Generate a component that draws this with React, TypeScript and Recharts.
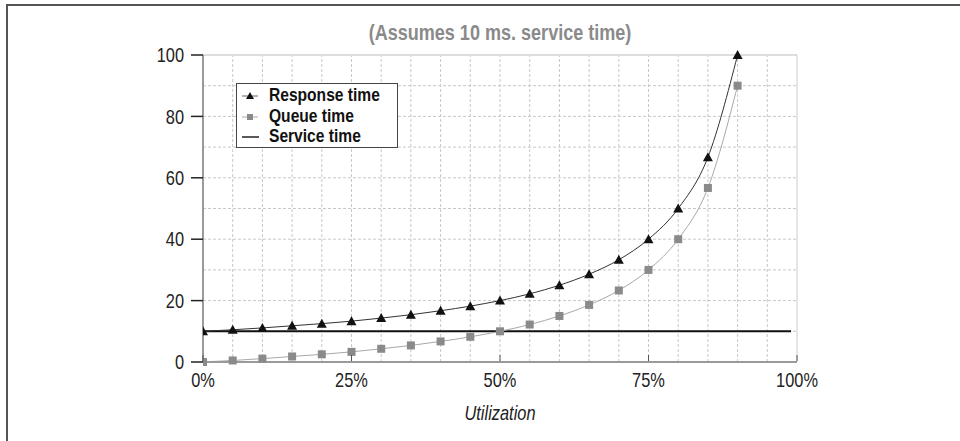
import React from 'react';
import { LineChart, Line, XAxis, YAxis, ReferenceLine, Legend } from 'recharts';

const FONT = '"Liberation Sans", Arial, sans-serif';
const SX = 0.82;

const utilization = [0, 5, 10, 15, 20, 25, 30, 35, 40, 45, 50, 55, 60, 65, 70, 75, 80, 85, 90];
const responseTime = [10, 10.5, 11.1, 11.8, 12.5, 13.3, 14.3, 15.4, 16.7, 18.2, 20, 22.2, 25, 28.6, 33.3, 40, 50, 66.7, 100];
const queueTime = [0, 0.5, 1.1, 1.8, 2.5, 3.3, 4.3, 5.4, 6.7, 8.2, 10, 12.2, 15, 18.6, 23.3, 30, 40, 56.7, 90];
const serviceU = [0, 99];
const serviceTime = [10, 10];

const xTicks = [0, 25, 50, 75, 100];
const yTicks = [0, 20, 40, 60, 80, 100];
const gridX = [5, 10, 15, 20, 25, 30, 35, 40, 45, 50, 55, 60, 65, 70, 75, 80, 85, 90, 95];
const gridY = [10, 20, 30, 40, 50, 60, 70, 80, 90];

const title = '(Assumes 10 ms. service time)';
const xLabel = 'Utilization';
const legendNames = ['Response time', 'Queue time', 'Service time'];

const data = utilization.map((u, i) => ({ u, response: responseTime[i], queue: queueTime[i] }));
const serviceData = serviceU.map((u, i) => ({ u, service: serviceTime[i] }));

const Triangle = (props: any) => {
  const { cx, cy } = props;
  if (cx == null || cy == null) return null;
  return <path d={`M${cx},${cy - 5} L${cx + 5},${cy + 4} L${cx - 5},${cy + 4} Z`} fill="#111" />;
};
const Square = (props: any) => {
  const { cx, cy } = props;
  if (cx == null || cy == null) return null;
  return <rect x={cx - 4} y={cy - 4} width={8} height={8} fill="#8a8a8a" />;
};

const XTick = (props: any) => {
  const { x, y, payload } = props;
  return (
    <g transform={`translate(${x},${y})`}>
      <line x1={0} x2={0} y1={-18} y2={-12} stroke="#555" strokeWidth={1} />
      <text transform={`scale(${SX},1)`} textAnchor="middle" dy="0.71em" fill="#222" fontSize={20} fontFamily={FONT}>
        {`${payload.value}%`}
      </text>
    </g>
  );
};
const YTick = (props: any) => {
  const { x, y, payload } = props;
  return (
    <g transform={`translate(${x},${y})`}>
      <text transform={`scale(${SX},1)`} textAnchor="end" dy="0.36em" fill="#222" fontSize={20} fontFamily={FONT}>
        {payload.value}
      </text>
    </g>
  );
};
const XLabel = (props: any) => {
  const vb = props.viewBox || {};
  const cx = vb.x + vb.width / 2;
  const by = vb.y + vb.height - 2;
  return (
    <g transform={`translate(${cx},${by})`}>
      <text transform={`scale(${SX},1)`} textAnchor="middle" fill="#222" fontSize={20} fontStyle="italic" fontFamily={FONT}>
        {xLabel}
      </text>
    </g>
  );
};

const LegendBox = () => (
  <div
    style={{
      border: '1.5px solid #444',
      background: '#fff',
      width: 160,
      height: 62,
      boxSizing: 'content-box',
      fontFamily: FONT,
      fontWeight: 'bold',
      fontSize: 19,
      color: '#111',
      paddingTop: 1,
    }}
  >
    {legendNames.map((name, i) => (
      <div key={name} style={{ display: 'flex', alignItems: 'center', height: 20.5, lineHeight: '20.5px' }}>
        <svg width={32} height={20} style={{ flex: 'none' }}>
          {i === 0 && (
            <g>
              <line x1={5} x2={21} y1={11} y2={11} stroke="#666" strokeWidth={1} />
              <path d="M13,7 L17,14 L9,14 Z" fill="#111" />
            </g>
          )}
          {i === 1 && (
            <g>
              <line x1={5} x2={21} y1={11} y2={11} stroke="#aaa" strokeWidth={1} />
              <rect x={10} y={8} width={6} height={6} fill="#8a8a8a" />
            </g>
          )}
          {i === 2 && <line x1={5} x2={22} y1={11} y2={11} stroke="#222" strokeWidth={1.5} />}
        </svg>
        <span style={{ whiteSpace: 'nowrap', display: 'inline-block', transform: `scaleX(${SX})`, transformOrigin: 'left center' }}>{name}</span>
      </div>
    ))}
  </div>
);

export default function App() {
  return (
    <div style={{ position: 'absolute', left: 0, top: 0, width: 960, height: 441, background: '#fff', overflow: 'hidden' }}>
      <div
        style={{
          position: 'absolute',
          left: 6,
          top: 4,
          width: 954,
          height: 437,
          boxSizing: 'border-box',
          borderLeft: '2px solid #555',
          borderTop: '2px solid #555',
        }}
      />
      <div
        style={{
          position: 'absolute',
          left: 300,
          width: 400,
          top: 20,
          textAlign: 'center',
          fontFamily: FONT,
          fontWeight: 'bold',
          fontSize: 22,
          color: '#8a8a8a',
          lineHeight: '26px',
          transform: `scaleX(${SX})`,
          transformOrigin: 'center',
          whiteSpace: 'nowrap',
        }}
      >
        {title}
      </div>
      <div style={{ position: 'absolute', left: 0, top: 0 }}>
        <LineChart width={960} height={441} data={data} margin={{ top: 55, right: 163, bottom: 19, left: 143 }}>
          {gridX.map((x) => (
            <ReferenceLine key={'gx' + x} x={x} stroke="#c8c8c8" strokeDasharray="3 2" strokeWidth={1} />
          ))}
          {gridY.map((y) => (
            <ReferenceLine key={'gy' + y} y={y} stroke="#c8c8c8" strokeDasharray="3 2" strokeWidth={1} />
          ))}
          <ReferenceLine y={100} stroke="#dddddd" strokeWidth={2} />
          <ReferenceLine x={100} stroke="#cccccc" strokeWidth={1} />
          <XAxis
            type="number"
            dataKey="u"
            domain={[0, 100]}
            ticks={xTicks}
            tickLine={false}
            tickSize={0}
            tickMargin={11}
            axisLine={{ stroke: '#9a9a9a', strokeWidth: 2 }}
            tick={<XTick />}
            height={60}
            allowDataOverflow
            label={{ content: (p: any) => <XLabel {...p} /> }}
          />
          <YAxis
            type="number"
            domain={[0, 100]}
            ticks={yTicks}
            width={60}
            tickSize={12}
            tickMargin={7}
            tickLine={{ stroke: '#222', strokeWidth: 1.5 }}
            axisLine={{ stroke: '#9a9a9a', strokeWidth: 2 }}
            tick={<YTick />}
          />
          <Legend
            layout="vertical"
            align="center"
            verticalAlign="middle"
            content={() => <LegendBox />}
            wrapperStyle={{ left: 236, top: 83, width: 'auto', height: 'auto' }}
          />
          <Line
            data={serviceData}
            dataKey="service"
            name="Service time"
            type="linear"
            stroke="#111"
            strokeWidth={2}
            dot={false}
            isAnimationActive={false}
            legendType="line"
          />
          <Line
            dataKey="queue"
            name="Queue time"
            type="monotone"
            stroke="#a8a8a8"
            strokeWidth={1}
            dot={<Square />}
            activeDot={false}
            isAnimationActive={false}
          />
          <Line
            dataKey="response"
            name="Response time"
            type="monotone"
            stroke="#333"
            strokeWidth={1}
            dot={<Triangle />}
            activeDot={false}
            isAnimationActive={false}
          />
        </LineChart>
      </div>
    </div>
  );
}
